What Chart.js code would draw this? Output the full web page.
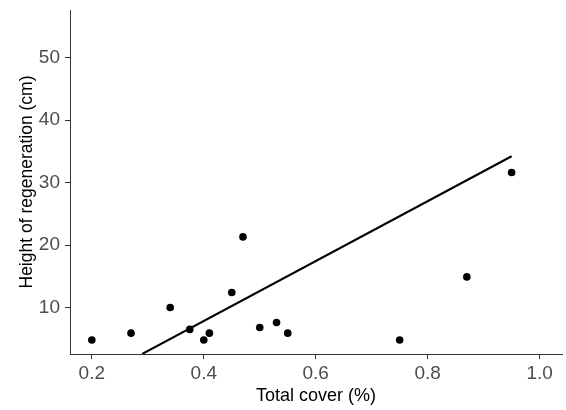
<!DOCTYPE html>
<html>
<head>
<meta charset="utf-8">
<script src="https://cdn.jsdelivr.net/npm/chart.js@4/dist/chart.umd.min.js"></script>
<style>
  html, body { margin: 0; padding: 0; background: #fff; }
  #wrap { width: 566px; height: 410px; }
</style>
</head>
<body>
<div id="wrap"><canvas id="chart" width="566" height="410"></canvas></div>
<script>
// observed points (total cover vs height of regeneration)
const coverVals = [0.20, 0.27, 0.34, 0.375, 0.40, 0.41, 0.45, 0.47, 0.50, 0.53, 0.55, 0.75, 0.87, 0.95];
const heightVals = [4.8, 5.9, 10.0, 6.5, 4.8, 5.9, 12.4, 21.3, 6.8, 7.6, 5.9, 4.8, 14.9, 31.6];

// fitted line (ends)
const fitX = [0.29, 0.95];
const fitY = [2.56, 34.2];

const xTicks = [0.2, 0.4, 0.6, 0.8, 1.0];
const yTicks = [10, 20, 30, 40, 50];

const points = coverVals.map((x, i) => ({ x: x, y: heightVals[i] }));
const fitLine = fitX.map((x, i) => ({ x: x, y: fitY[i] }));

const axisColor = '#333333';
const labelColor = '#4d4d4d';
const fontFamily = '"Liberation Sans", Arial, sans-serif';

new Chart(document.getElementById('chart'), {
  type: 'scatter',
  data: {
    datasets: [
      {
        type: 'line',
        data: fitLine,
        borderColor: '#000',
        borderWidth: 2,
        pointRadius: 0,
        fill: false,
      },
      {
        data: points,
        backgroundColor: '#000',
        borderColor: '#000',
        pointRadius: 3.8,
        borderWidth: 0,
      },
    ],
  },
  options: {
    responsive: false,
    animation: false,
    layout: { padding: { top: 10, right: 3 } },
    plugins: { legend: { display: false }, tooltip: { enabled: false } },
    scales: {
      x: {
        type: 'linear',
        min: 0.161,
        max: 1.04,
        afterBuildTicks: (s) => { s.ticks = xTicks.map(v => ({ value: v })); },
        afterFit: (s) => { s.height = 56; s.paddingLeft = 0; s.paddingRight = 0; },
        grid: { display: true, drawOnChartArea: false, tickLength: 5, color: axisColor },
        border: { color: axisColor, width: 1 },
        ticks: {
          color: labelColor,
          padding: 3,
          font: { family: fontFamily, size: 19 },
          callback: (v) => v.toFixed(1),
        },
        title: {
          display: true,
          text: 'Total cover (%)',
          color: '#000',
          padding: { top: 3, bottom: 3 },
          font: { family: fontFamily, size: 18 },
        },
      },
      y: {
        type: 'linear',
        min: 2.56,
        max: 57.6,
        afterBuildTicks: (s) => { s.ticks = yTicks.map(v => ({ value: v })); },
        afterFit: (s) => { s.width = 70; s.paddingTop = 0; s.paddingBottom = 0; },
        grid: { display: true, drawOnChartArea: false, tickLength: 5, color: axisColor },
        border: { color: axisColor, width: 1 },
        ticks: {
          color: labelColor,
          padding: 5,
          font: { family: fontFamily, size: 19 },
        },
        title: {
          display: true,
          text: 'Height of regeneration (cm)',
          color: '#000',
          padding: { top: 17, bottom: 17 },
          font: { family: fontFamily, size: 17.5 },
        },
      },
    },
  },
});
</script>
</body>
</html>
